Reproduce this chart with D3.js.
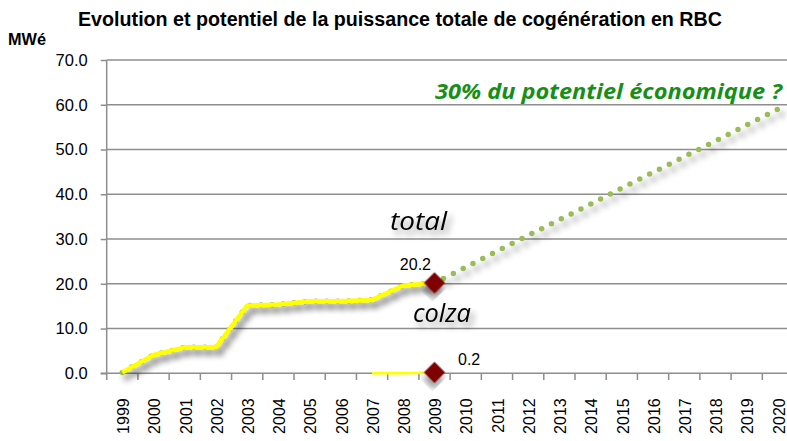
<!DOCTYPE html>
<html><head><meta charset="utf-8">
<script src="https://cdn.jsdelivr.net/npm/d3@7"></script>
<style>
html,body{margin:0;padding:0;background:#fff;}
svg{display:block;}
</style></head>
<body>
<svg id="chart" width="787" height="441"></svg>
<script>
const years = ["1999","2000","2001","2002","2003","2004","2005","2006","2007","2008","2009","2010","2011","2012","2013","2014","2015","2016","2017","2018","2019","2020"];
const totalYears = ["1999","2000","2001","2002","2003","2004","2005","2006","2007","2008","2009"];
const totalValues = [0.2, 4.1, 5.8, 5.8, 15.1, 15.4, 16.1, 16.1, 16.4, 19.6, 20.2];
const potentielValues = [0.2, 4.1, 5.8, 5.8, 15.1, 15.4, 16.1, 16.1, 16.4, 19.6, 20.2, 23.7, 27.3, 30.8, 34.3, 37.8, 41.4, 44.9, 48.4, 51.9, 55.5, 59.0];
const colzaYears = ["2007","2008","2009"];
const colzaValues = [0, 0, 0.2];
const yTicks = [0, 10, 20, 30, 40, 50, 60, 70];

const svg = d3.select("#chart");
const defs = svg.append("defs");
const f = defs.append("filter").attr("id","shadow").attr("x","-20%").attr("y","-30%").attr("width","150%").attr("height","180%");
f.append("feDropShadow").attr("dx",4).attr("dy",5).attr("stdDeviation",3).attr("flood-color","#000").attr("flood-opacity",0.4);

const x = d3.scaleBand().domain(years).range([106.7, 106.7 + 22*31.22]).paddingInner(0).paddingOuter(0);
const y = d3.scaleLinear().domain([0,70]).range([373.3, 60]);
const cx = d => x(d) + x.bandwidth()/2;

// gridlines
svg.append("g").selectAll("line").data(yTicks.filter(v=>v>0)).join("line")
  .attr("x1", 106.7).attr("x2", 787).attr("y1", d=>y(d)).attr("y2", d=>y(d))
  .attr("stroke","#8e8e8e").attr("stroke-width",1.5);

// y axis
const yAxis = svg.append("g").attr("transform","translate(106.7,0)")
  .call(d3.axisLeft(y).tickValues(yTicks).tickFormat(d3.format(".1f")).tickSize(6).tickPadding(13));
yAxis.select(".domain").attr("stroke","#8e8e8e").attr("stroke-width",1.5).attr("d","M0,60V373.3");
yAxis.selectAll(".tick line").attr("stroke","#8e8e8e").attr("stroke-width",1.5);
yAxis.selectAll(".tick text").attr("font-family","Liberation Sans, Arial, sans-serif").attr("font-size",16.5).attr("fill","#000");

// x axis
const xAxis = svg.append("g").attr("transform","translate(0,373.3)")
  .call(d3.axisBottom(x).tickSize(0).tickPadding(0));
xAxis.select(".domain").attr("stroke","#8e8e8e").attr("stroke-width",1.5).attr("d","M100.7,0H787");
xAxis.selectAll(".tick text")
  .attr("font-family","Liberation Sans, Arial, sans-serif").attr("font-size",16).attr("fill","#000")
  .attr("text-anchor","end").attr("dy","0.36em")
  .attr("transform","translate(1,25) rotate(-90)").attr("x",0).attr("y",0);
svg.append("g").selectAll("line").data(years).join("line")
  .attr("x1", d=>x(d)).attr("x2", d=>x(d)).attr("y1",373.3).attr("y2",380)
  .attr("stroke","#8e8e8e").attr("stroke-width",1.5);

// potentiel (green dotted)
const lineP = d3.line().x((d,i)=>cx(years[i])).y(d=>y(d));
svg.append("path").datum(potentielValues).attr("d", lineP)
  .attr("fill","none").attr("stroke","#9bbb59").attr("stroke-width",5.5)
  .attr("stroke-linecap","round").attr("stroke-dasharray","0 11")
  .attr("filter","url(#shadow)");

// total (yellow)
const lineT = d3.line().x((d,i)=>cx(totalYears[i])).y(d=>y(d));
svg.append("path").datum(totalValues).attr("d", lineT)
  .attr("fill","none").attr("stroke","#ffff00").attr("stroke-width",4.5)
  .attr("stroke-linejoin","round").attr("filter","url(#shadow)");

// colza (yellow)
const lineC = d3.line().x((d,i)=>cx(colzaYears[i])).y(d=>y(d));
svg.append("path").datum(colzaValues).attr("d", lineC)
  .attr("fill","none").attr("stroke","#ffff00").attr("stroke-width",2.5);

// diamonds
const markers = [{yr:"2009", v: totalValues[totalValues.length-1]}, {yr:"2009", v: colzaValues[colzaValues.length-1]}];
svg.append("g").selectAll("path").data(markers).join("path")
  .attr("d", d3.symbol().type(d3.symbolSquare).size(225))
  .attr("transform", d=>`translate(${cx(d.yr)},${y(d.v)}) rotate(45)`)
  .attr("fill","#7f0000").attr("filter","url(#shadow)");

// data labels
svg.append("text").attr("x",431).attr("y",270).attr("text-anchor","end")
  .attr("font-family","Liberation Sans, Arial, sans-serif").attr("font-size",16).text(d3.format(".1f")(totalValues[totalValues.length-1]));
svg.append("text").attr("x",458).attr("y",365)
  .attr("font-family","Liberation Sans, Arial, sans-serif").attr("font-size",16).text(d3.format(".1f")(colzaValues[colzaValues.length-1]));

// series labels
svg.append("text").attr("x",390).attr("y",230).attr("font-family","Open Sans, DejaVu Sans, sans-serif")
  .attr("font-style","italic").attr("font-size",25).attr("textLength",57).attr("lengthAdjust","spacingAndGlyphs")
  .attr("filter","url(#shadow)").text("total");
svg.append("text").attr("x",413).attr("y",322).attr("font-family","Open Sans, DejaVu Sans, sans-serif")
  .attr("font-style","italic").attr("font-size",25).attr("textLength",58).attr("lengthAdjust","spacingAndGlyphs")
  .attr("filter","url(#shadow)").text("colza");

// green annotation
svg.append("text").attr("x",435).attr("y",98.5).attr("font-family","Open Sans, Liberation Sans, sans-serif")
  .attr("font-style","italic").attr("font-weight","bold").attr("font-size",21).attr("fill","#178f17")
  .attr("textLength",347).attr("lengthAdjust","spacingAndGlyphs").text("30% du potentiel économique ?");

// title and unit
svg.append("text").attr("x",78).attr("y",26).attr("font-family","Liberation Sans, Arial, sans-serif")
  .attr("font-weight","bold").attr("font-size",20).attr("textLength",644).attr("lengthAdjust","spacingAndGlyphs")
  .text("Evolution et potentiel de la puissance totale de cogénération en RBC");
svg.append("text").attr("x",8).attr("y",45).attr("font-family","Liberation Sans, Arial, sans-serif")
  .attr("font-weight","bold").attr("font-size",16).attr("textLength",38).attr("lengthAdjust","spacingAndGlyphs")
  .text("MWé");
</script>
</body></html>
